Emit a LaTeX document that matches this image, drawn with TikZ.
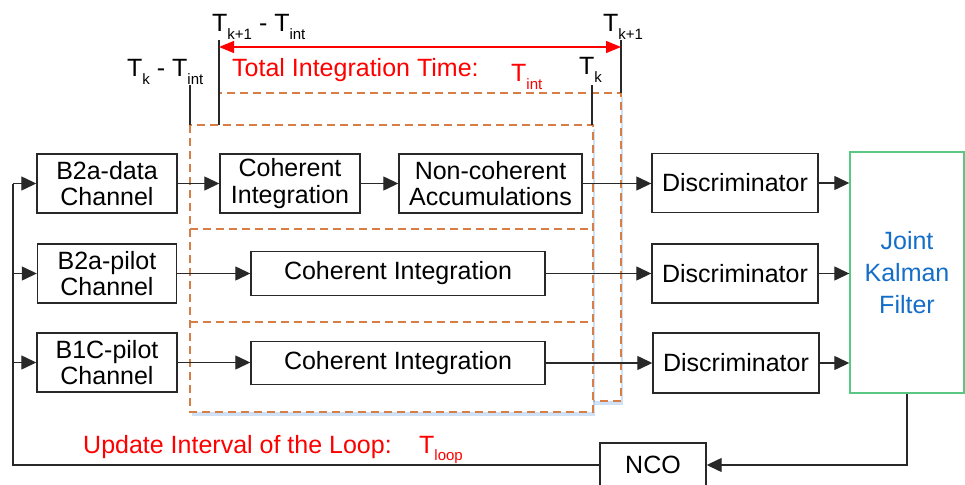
\documentclass[tikz,border=0pt]{standalone}
\usepackage{fontspec}
\setmainfont{Liberation Sans}
\usetikzlibrary{arrows.meta,shadows}
\definecolor{dashc}{RGB}{215,125,70}
\definecolor{kgreen}{RGB}{90,200,130}
\definecolor{kblue}{RGB}{20,110,200}
\definecolor{linec}{RGB}{40,40,40}
\definecolor{shadc}{RGB}{175,205,240}
\newcommand{\sbs}[1]{\raisebox{-7.5pt}{\fontsize{15}{15}\selectfont #1}}
\begin{document}
\begin{tikzpicture}[x=1pt,y=-1pt,
  blockbox/.style={draw=linec, line width=1.4pt, fill=white, inner sep=0pt,
    font=\fontsize{25}{26.5}\selectfont, align=center},
  conn/.style={draw=linec, line width=1.3pt, -{Triangle[length=15pt,width=14pt]}},
  plainline/.style={draw=linec, line width=1.3pt},
  tline/.style={draw=linec, line width=1.3pt},
  dashbox/.style={draw=dashc, line width=1.5pt, dash pattern=on 8pt off 5pt, fill=white,
    drop shadow={shadow xshift=2pt, shadow yshift=-4pt, fill=shadc, opacity=0.6}},
  divider/.style={draw=dashc, line width=1.5pt, dash pattern=on 8pt off 5pt},
  lbl/.style={anchor=base west, inner sep=0pt, font=\fontsize{25}{26.5}\selectfont},
  redarrow/.style={draw=red, line width=1.3pt, {Triangle[length=15pt,width=12pt]}-{Triangle[length=15pt,width=12pt]}},
]
\useasboundingbox (0,0) rectangle (965,484);

% integration windows
\draw[dashbox] (219,93) rectangle (621,401);
\draw[dashbox] (190,125) rectangle (593,412);
\draw[divider] (190,229) -- (593,229);
\draw[divider] (190,322) -- (593,322);

% time marks
\coordinate (a1) at (219,40); \coordinate (a2) at (219,125);
\coordinate (b1) at (621,40); \coordinate (b2) at (621,93);
\coordinate (c1) at (190,85); \coordinate (c2) at (190,125);
\coordinate (e1) at (592,85); \coordinate (e2) at (592,125);
\draw[tline] (a1) -- (a2);
\draw[tline] (b1) -- (b2);
\draw[tline] (c1) -- (c2);
\draw[tline] (e1) -- (e2);
\coordinate (ra) at (219,47); \coordinate (rb) at (621,47);
\draw[redarrow] (ra) -- (rb);

\node[lbl] (lt1) at (212,32) {T\sbs{k+1} - T\sbs{int}};
\node[lbl] (lt2) at (603,32) {T\sbs{k+1}};
\node[lbl] (lt3) at (127,77) {T\sbs{k} - T\sbs{int}};
\node[lbl] (lt4) at (579,75) {T\sbs{k}};
\node[lbl, text=red] (ltot) at (232,77) {Total Integration Time:};
\node[lbl, text=red] (ltint) at (511,82) {T\sbs{int}};
\node[lbl, text=red] (lupd) at (83,453) {Update Interval of the Loop:};
\node[lbl, text=red] (lloop) at (419,453) {T\sbs{loop}};

% blocks
\node[blockbox, minimum width=140pt, minimum height=59pt] (d1) at (107,183.5) {B2a-data\\Channel};
\node[blockbox, minimum width=139pt, minimum height=59pt] (p1) at (107,273.5) {B2a-pilot\\Channel};
\node[blockbox, minimum width=140pt, minimum height=59pt] (q1) at (107,362.5) {B1C-pilot\\Channel};
\node[blockbox, minimum width=140pt, minimum height=59pt] (ci1) at (290,183.5) {Coherent\\Integration};
\node[blockbox, minimum width=183pt, minimum height=59pt] (nca) at (490.5,183.5) {Non-coherent\\Accumulations};
\node[blockbox, minimum width=294pt, minimum height=44pt] (ci2) at (398,273.5) {Coherent Integration};
\node[blockbox, minimum width=294pt, minimum height=43pt] (ci3) at (398,363) {Coherent Integration};
\node[blockbox, minimum width=166pt, minimum height=59pt] (ds1) at (735,183) {Discriminator};
\node[blockbox, minimum width=166pt, minimum height=59pt] (ds2) at (735,273.5) {Discriminator};
\node[blockbox, minimum width=166pt, minimum height=60pt] (ds3) at (736,363) {Discriminator};
\node[blockbox, draw=kgreen, text=kblue, font=\fontsize{25}{32}\selectfont,
      minimum width=114pt, minimum height=241pt] (kf) at (907,272.5) {Joint\\Kalman\\Filter};
\node[blockbox, minimum width=106pt, minimum height=44pt] (nco) at (653,465) {NCO};

% connectors
\draw[conn] (d1.east) -- (ci1.west);
\draw[conn] (ci1.east) -- (nca.west);
\draw[conn] (nca.east) -- (nca.east -| ds1.west);
\draw[conn] (p1.east) -- (p1.east -| ci2.west);
\draw[conn] (ci2.east) -- (ci2.east -| ds2.west);
\draw[conn] (q1.east) -- (q1.east -| ci3.west);
\draw[conn] (ci3.east) -- (ci3.east -| ds3.west);
\draw[conn] (ds1.east) -- (ds1.east -| kf.west);
\draw[conn] (ds2.east) -- (ds2.east -| kf.west);
\draw[conn] (ds3.east) -- (ds3.east -| kf.west);
\draw[conn] (kf.south) |- (nco.east);
\coordinate (fb) at (13,183.5);
\draw[plainline] (nco.west) -| (fb);
\draw[conn] (fb) -- (d1.west);
\draw[conn] (fb |- p1.west) -- (p1.west);
\draw[conn] (fb |- q1.west) -- (q1.west);
\end{tikzpicture}
\end{document}
